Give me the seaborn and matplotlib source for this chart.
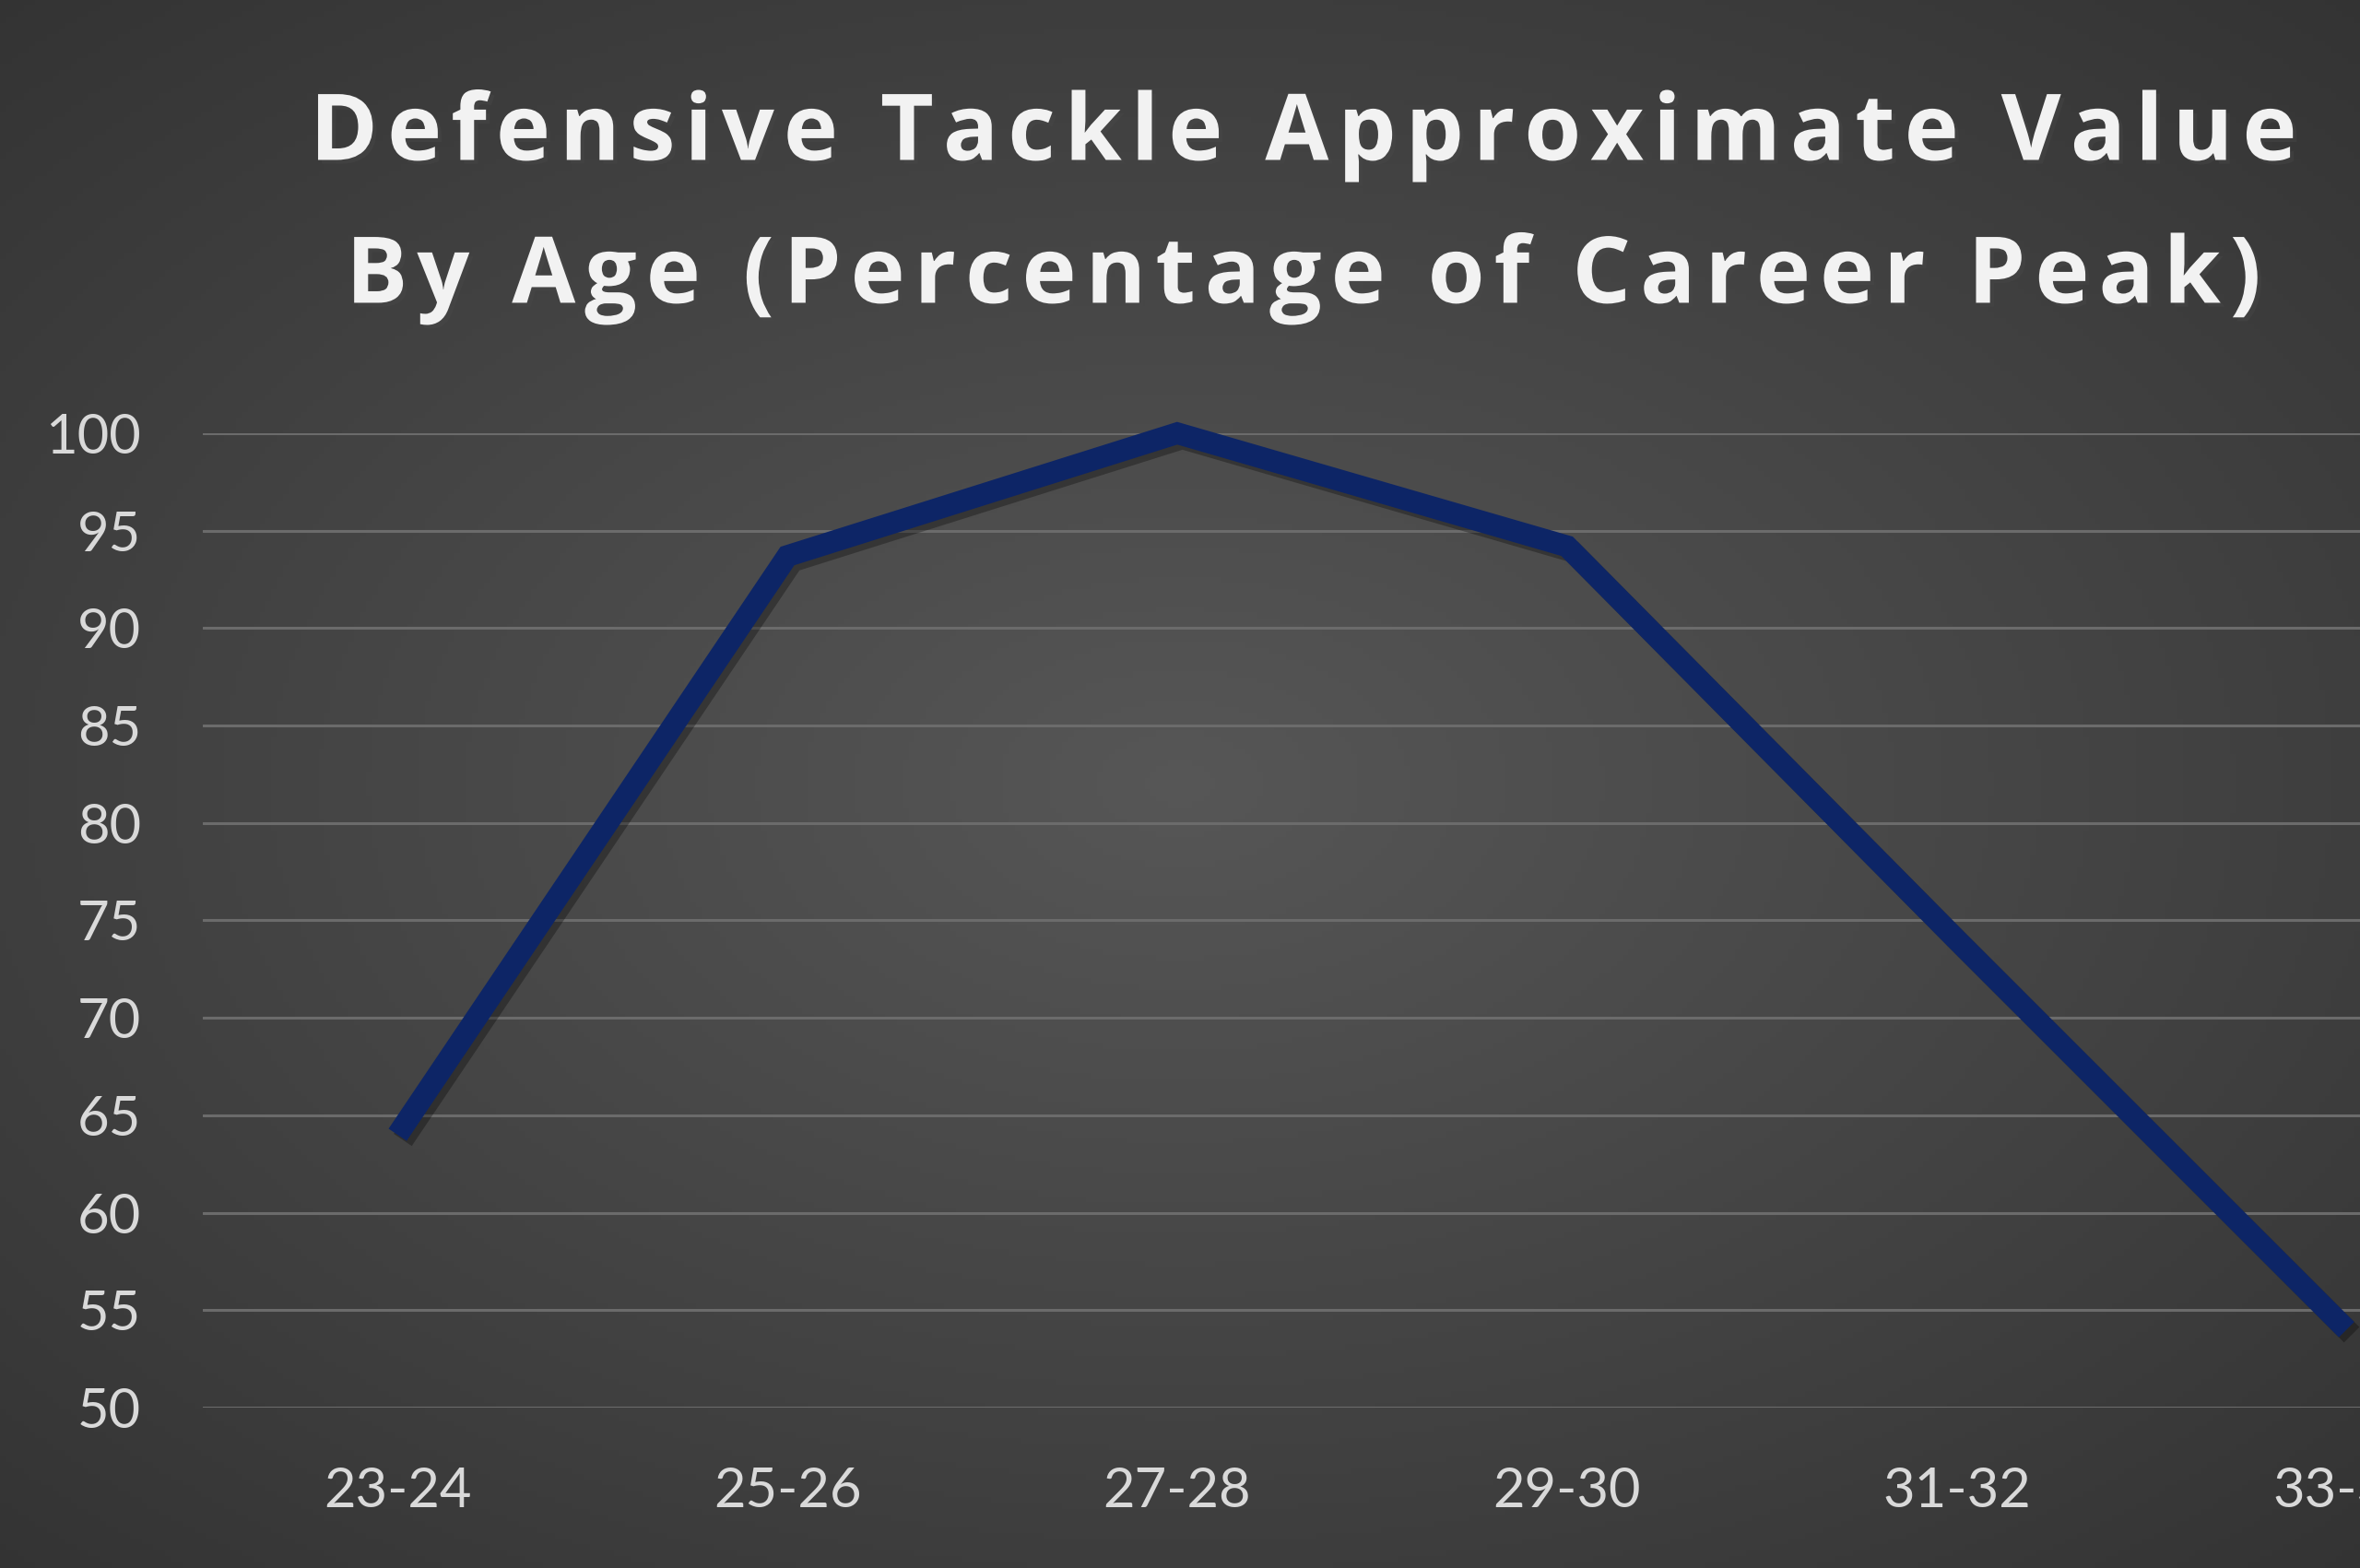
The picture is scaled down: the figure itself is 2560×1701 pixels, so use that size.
import numpy as np
import pandas as pd
import matplotlib
matplotlib.use('Agg')
import matplotlib.pyplot as plt
import matplotlib.patheffects as pe
import seaborn as sns

# Data
age_groups = ['23-24', '25-26', '27-28', '29-30', '31-32', '33-34']
pct_of_peak = [64, 93.7, 100, 94.2, 74, 54]
y_ticks = [50, 55, 60, 65, 70, 75, 80, 85, 90, 95, 100]
title_lines = ['Defensive Tackle Approximate Value', 'By Age (Percentage of Career Peak)']

df = pd.DataFrame({'age': age_groups, 'value': pct_of_peak})

sns.set_theme(style='dark')
plt.rcParams['font.family'] = ['Lato', 'DejaVu Sans']

fig = plt.figure(figsize=(25.6, 17.01), dpi=100)

# dark radial gradient background
bg = fig.add_axes([0, 0, 1, 1], zorder=-10)
gx, gy = np.meshgrid(np.linspace(-1, 1, 400), np.linspace(-1, 1, 266))
r = np.sqrt((gx * 0.95) ** 2 + (gy * 1.0) ** 2)
shade = 0.34 - 0.14 * np.clip(r, 0, 1.4) / 1.4
bg.imshow(np.dstack([shade, shade, shade]), aspect='auto', extent=[0, 1, 0, 1])
bg.axis('off')

ax = fig.add_axes([0.0859, 0.1023, 0.991, 0.6214])
ax.patch.set_alpha(0)

sns.lineplot(data=df, x='age', y='value', ax=ax, sort=False,
             color='#0d2566', linewidth=17, clip_on=False,
             solid_capstyle='butt', solid_joinstyle='miter',
             path_effects=[pe.SimpleLineShadow(offset=(4, -4), shadow_color='black', alpha=0.3),
                           pe.Normal()])

ax.set_xlim(-0.5, 5.5)
ax.set_ylim(50, 100)
ax.set_yticks(y_ticks)
ax.yaxis.grid(True, color='#6b6b6b', linewidth=2.2)
ax.xaxis.grid(False)
for s in ax.spines.values():
    s.set_visible(False)
ax.set_xlabel('')
ax.set_ylabel('')
ax.tick_params(axis='y', colors='#d9d9d9', labelsize=43, pad=48, length=0)
ax.tick_params(axis='x', colors='#d9d9d9', labelsize=43, pad=46, length=0)

# title, two lines, letter-spaced with hair spaces
title_kw = dict(ha='center', va='center', color='#f2f2f2', fontsize=72,
                fontweight='bold', family=['Open Sans', 'DejaVu Sans'],
                path_effects=[pe.withSimplePatchShadow(offset=(3, -3), alpha=0.4)])
for line, ypos in zip(title_lines, [0.9136, 0.8225]):
    fig.text(0.552, ypos, '\u200a'.join(line), **title_kw)

fig.savefig('out.png', dpi=100)
